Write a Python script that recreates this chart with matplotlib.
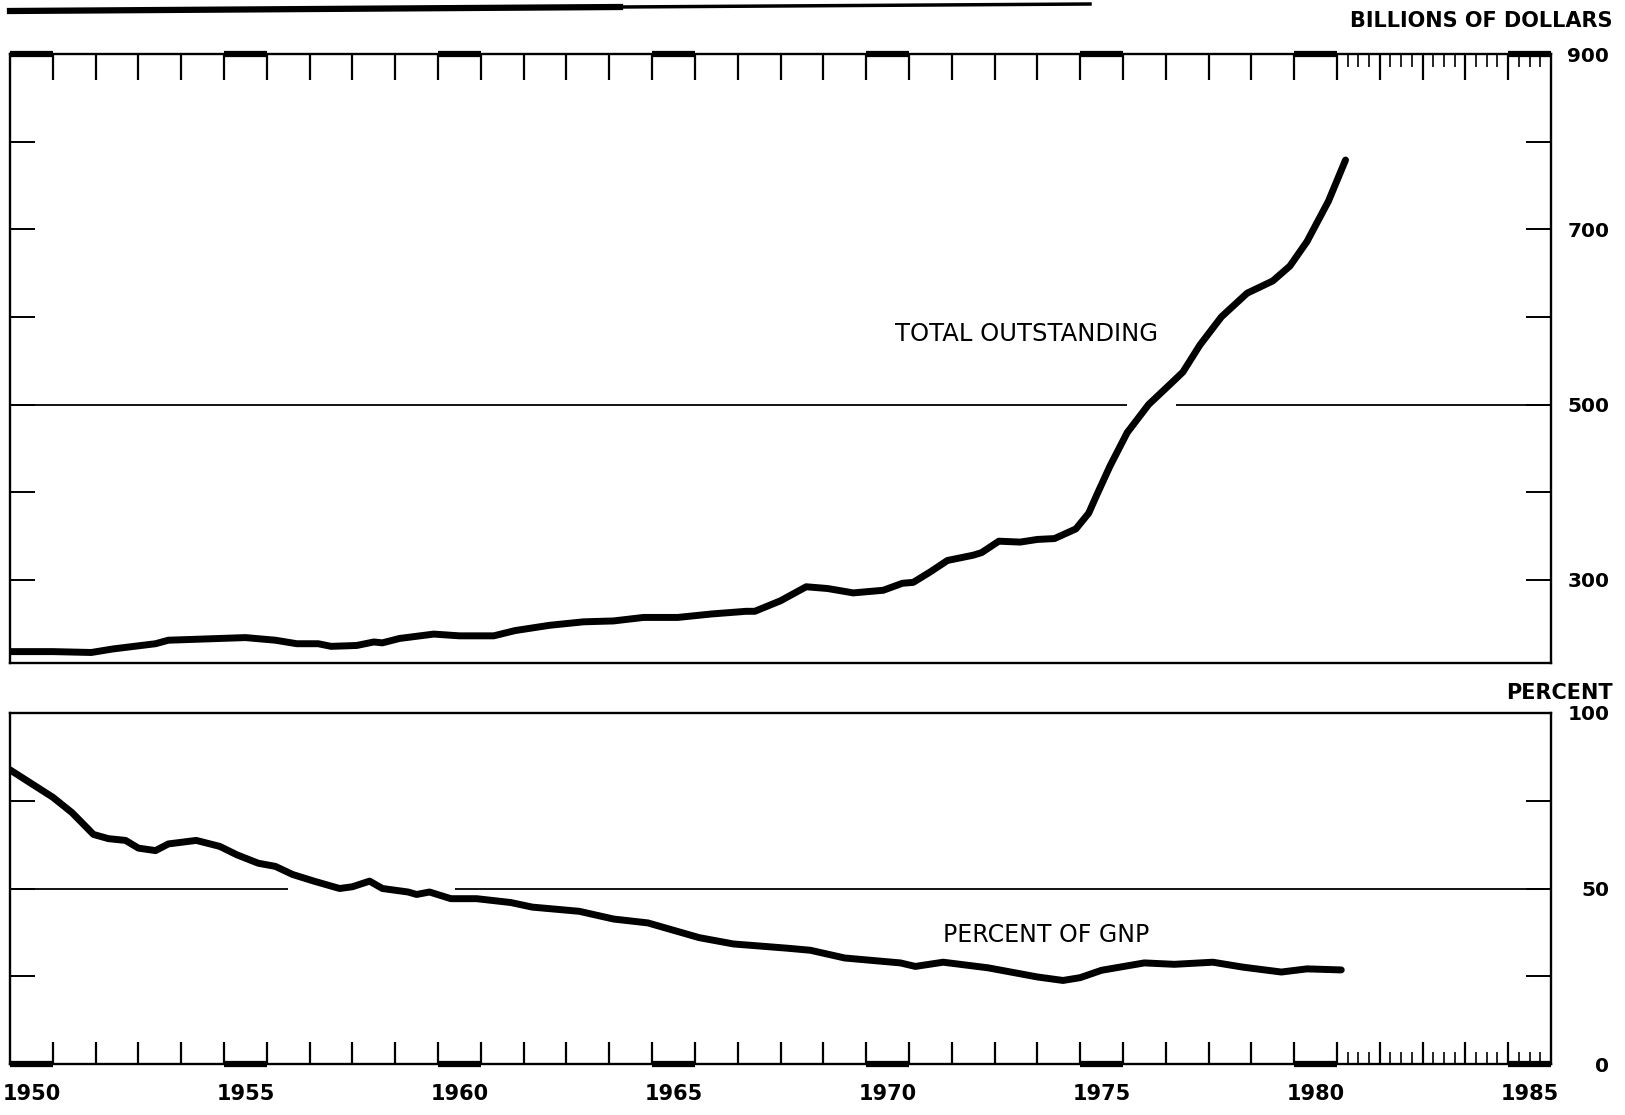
import matplotlib
matplotlib.use("Agg")
import matplotlib.pyplot as plt
import matplotlib.transforms as mtransforms
from matplotlib.lines import Line2D

# values
debt_years = [1950.0, 1951.0, 1951.9, 1952.4, 1953.4, 1953.7, 1954.9, 1955.5, 1956.2,
              1956.7, 1957.2, 1957.5, 1958.1, 1958.5, 1958.7, 1959.1, 1959.9, 1960.5,
              1961.3, 1961.8, 1962.6, 1963.4, 1964.1, 1964.8, 1965.6, 1966.4, 1967.2,
              1967.4, 1968.0, 1968.6, 1969.1, 1969.7, 1970.4, 1970.85, 1971.1, 1971.5,
              1971.9, 1972.5, 1972.7, 1973.1, 1973.6, 1974.0, 1974.4, 1974.9, 1975.2,
              1975.4, 1975.7, 1976.1, 1976.6, 1977.1, 1977.4, 1977.8, 1978.3, 1978.9,
              1979.5, 1979.9, 1980.3, 1980.8, 1981.2]
debt_total = [218, 218, 217, 221, 227, 231, 233, 234, 231,
              227, 227, 224, 225, 229, 228, 233, 238, 236,
              236, 242, 248, 252, 253, 257, 257, 261, 264,
              264, 276, 292, 290, 285, 288, 296, 297, 309,
              322, 328, 331, 344, 343, 346, 347, 358, 376,
              398, 430, 468, 500, 523, 537, 568, 600, 627,
              641, 658, 686, 732, 779]

pct_years = [1950.0, 1951.0, 1951.45, 1951.95, 1952.3, 1952.7, 1953.0, 1953.4, 1953.7,
             1954.35, 1954.9, 1955.3, 1955.8, 1956.2, 1956.6, 1957.1, 1957.7, 1958.0,
             1958.4, 1958.7, 1959.3, 1959.5, 1959.8, 1960.3, 1960.9, 1961.7, 1962.2,
             1963.3, 1964.1, 1964.9, 1966.1, 1966.9, 1968.15, 1968.7, 1969.5, 1970.8,
             1971.15, 1971.8, 1972.85, 1974.0, 1974.6, 1975.0, 1975.5, 1976.5, 1977.2,
             1978.1, 1978.8, 1979.7, 1980.3, 1981.1]
pct_gnp = [83.8, 76.0, 71.6, 65.4, 64.2, 63.7, 61.5, 60.8, 62.7,
           63.7, 62.0, 59.6, 57.2, 56.3, 54.0, 52.1, 50.0, 50.5,
           52.1, 50.0, 49.0, 48.3, 49.0, 47.1, 47.1, 46.0, 44.7,
           43.5, 41.3, 40.2, 36.0, 34.2, 33.0, 32.4, 30.2, 28.8,
           27.8, 29.0, 27.4, 24.8, 23.8, 24.6, 26.7, 28.8, 28.4,
           29.0, 27.6, 26.2, 27.1, 26.8]

year_labels = [1950, 1955, 1960, 1965, 1970, 1975, 1980, 1985]
debt_ticks = [300, 400, 500, 600, 700, 800, 900]
debt_labels = ["300", "", "500", "", "700", "", "900"]
pct_ticks = [0, 25, 50, 75, 100]
pct_labels = ["0", "", "50", "", "100"]

W, H = 1625, 1115
fig = plt.figure(figsize=(W / 100, H / 100), dpi=100)
ax1 = fig.add_axes([10 / W, 1 - 663 / H, 1541 / W, 609 / H])
ax2 = fig.add_axes([10 / W, 1 - 1064 / H, 1541 / W, 351 / H])

year_ticks = list(range(1951, 1986))
quarter_ticks = [y + q for y in range(1981, 1986) for q in (0.25, 0.5, 0.75)]

for ax in (ax1, ax2):
    ax.set_xlim(1950, 1986)
    for s in ax.spines.values():
        s.set_linewidth(1.7)
    ax.set_xticks(year_ticks)
    ax.set_xticks(quarter_ticks, minor=True)
    ax.tick_params(axis="y", which="both", direction="in", left=True, right=True,
                   labelleft=False, labelright=True, length=18, width=1.4,
                   pad=42, labelsize=14.5)

# top panel
ax1.plot(debt_years, debt_total, color="black", lw=5, solid_capstyle="round",
         solid_joinstyle="round")
ax1.set_ylim(205, 900)
ax1.set_yticks(debt_ticks)
ax1.set_yticklabels(debt_labels, fontweight="bold")
ax1.tick_params(axis="x", which="major", direction="in", top=True, bottom=False,
                labelbottom=False, length=19, width=1.6)
ax1.tick_params(axis="x", which="minor", direction="in", top=True, bottom=False,
                length=9, width=1.2)
ax1.hlines(500, 1950, 1976.1, color="black", lw=1.3)
ax1.hlines(500, 1977.25, 1986, color="black", lw=1.3)
ax1.text(1973.75, 580, "TOTAL OUTSTANDING", ha="center", va="center", fontsize=17.5)

# bottom panel
ax2.plot(pct_years, pct_gnp, color="black", lw=5, solid_capstyle="round",
         solid_joinstyle="round")
ax2.set_ylim(0, 100)
ax2.set_yticks(pct_ticks)
ax2.set_yticklabels(pct_labels, fontweight="bold")
ax2.tick_params(axis="x", which="major", direction="in", top=False, bottom=True,
                labelbottom=False, length=16, width=1.6)
ax2.tick_params(axis="x", which="minor", direction="in", top=False, bottom=True,
                length=9, width=1.2)
ax2.hlines(50, 1950, 1956.5, color="black", lw=1.3)
ax2.hlines(50, 1960.4, 1986, color="black", lw=1.3)
ax2.text(1974.2, 36.8, "PERCENT OF GNP", ha="center", va="center", fontsize=17)

for ax in (ax1, ax2):
    for t in ax.yaxis.get_major_ticks():
        t.label2.set_horizontalalignment("right")

# heavy marks on every fifth year along the time scale
tr1 = mtransforms.blended_transform_factory(ax1.transData, ax1.transAxes)
tr2 = mtransforms.blended_transform_factory(ax2.transData, ax2.transAxes)
for y in year_labels:
    ax1.plot([y, y + 1], [1, 1], transform=tr1, color="black", lw=4.5,
             solid_capstyle="butt", clip_on=False)
    ax2.plot([y, y + 1], [0, 0], transform=tr2, color="black", lw=4.5,
             solid_capstyle="butt", clip_on=False)
    ax2.text(y + 0.5, -0.085, str(y), transform=tr2, ha="center", va="center",
             fontsize=15, fontweight="bold")

fig.text(1613 / W, 1 - 21 / H, "BILLIONS OF DOLLARS", ha="right", va="center",
         fontsize=15, fontweight="bold")
fig.text(1613 / W, 1 - 693 / H, "PERCENT", ha="right", va="center",
         fontsize=15, fontweight="bold")

# rule from the page above
fig.add_artist(Line2D([10 / W, 620 / W], [1 - 11 / H, 1 - 7 / H], color="black", lw=4.5,
                      transform=fig.transFigure))
fig.add_artist(Line2D([620 / W, 1090 / W], [1 - 7 / H, 1 - 4 / H], color="black", lw=2.5,
                      transform=fig.transFigure))

fig.savefig("out.png", dpi=100, facecolor="white")
